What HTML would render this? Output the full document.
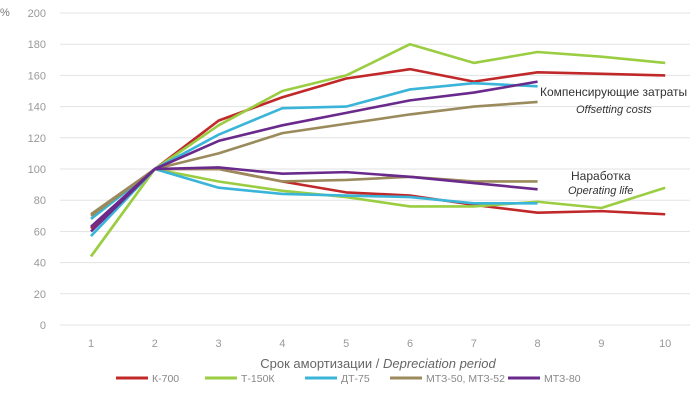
<!DOCTYPE html>
<html><head><meta charset="utf-8"><style>
body{margin:0;background:#fff;font-family:"Liberation Sans","DejaVu Sans",sans-serif;}
svg text{font-family:"Liberation Sans","DejaVu Sans",sans-serif;}
</style></head><body>
<svg id="chart" width="699" height="412" viewBox="0 0 699 412" xmlns="http://www.w3.org/2000/svg"></svg>
<script>
const periods=[1,2,3,4,5,6,7,8,9,10];
const yTicks=[0,20,40,60,80,100,120,140,160,180,200];
const seriesNames=["К-700","Т-150К","ДТ-75","МТЗ-50, МТЗ-52","МТЗ-80"];
const seriesColors=["#c0282a","#9acd42","#3ab4d8","#9b8a5c","#6a2a8c"];
const k700Cost=[62,100,131,146,158,164,156,162,161,160];
const k700Life=[62,100,100,92,85,83,77,72,73,71];
const t150Cost=[44,100,128,150,160,180,168,175,172,168];
const t150Life=[44,100,92,86,82,76,76,79,75,88];
const dt75Cost=[57,100,122,139,140,151,155,153];
const dt75Life=[68,100,88,84,83,82,78,78];
const mtz50Cost=[71,100,110,123,129,135,140,143];
const mtz50Life=[70,100,100,92,93,95,92,92];
const mtz80Cost=[63,100,118,128,136,144,149,156];
const mtz80Life=[60,100,101,97,98,95,91,87];
const seriesData=[[k700Cost,k700Life],[t150Cost,t150Life],[dt75Cost,dt75Life],[mtz50Cost,mtz50Life],[mtz80Cost,mtz80Life]];

const svg=document.getElementById('chart');
const NS="http://www.w3.org/2000/svg";
const x=p=>91+(p-1)*63.8;
const y=v=>325-v*1.56;
function mk(tag,attrs,txt){const e=document.createElementNS(NS,tag);for(const k in attrs)e.setAttribute(k,attrs[k]);if(txt!==undefined)e.textContent=txt;svg.appendChild(e);return e;}

yTicks.forEach(t=>{
  const g=mk('line',{x1:60,x2:690,y1:y(t),y2:y(t),stroke:'#e3e3e3','stroke-width':1});
  
  
  const l=mk('text',{x:46,y:y(t)+4,'text-anchor':'end','font-size':11,fill:'#999'},t);
  
  
});
const pc=mk('text',{x:0,y:16,'font-size':11,fill:'#777'},'%');


periods.forEach(p=>{
  const l=mk('text',{x:x(p),y:347,'text-anchor':'middle','font-size':11,fill:'#999'},p);
  
  
});
const xt=mk('text',{x:378,y:368,'text-anchor':'middle','font-size':13,fill:'#666'});


xt.innerHTML='Срок амортизации / <tspan font-style="italic">Depreciation period</tspan>';

seriesData.forEach((pair,i)=>{
  pair.forEach((vals,j)=>{
    const pts=vals.map((v,k)=>x(periods[k])+','+y(v)).join(' ');
    const pl=mk('polyline',{points:pts,fill:'none',stroke:seriesColors[i],'stroke-width':2.6,'stroke-linejoin':'round'});
    
    
  });
});

const a1=mk('text',{x:540,y:96,'font-size':12,fill:'#333'},'Компенсирующие затраты');


const a2=mk('text',{x:576,y:113,'font-size':11,fill:'#333','font-style':'italic'},'Offsetting costs');


const a3=mk('text',{x:571,y:180,'font-size':12,fill:'#333'},'Наработка');


const a4=mk('text',{x:568,y:194,'font-size':11,fill:'#333','font-style':'italic'},'Operating life');



const legX=[116,205,305,390,508];
seriesNames.forEach((n,i)=>{
  const ln=mk('line',{x1:legX[i],x2:legX[i]+32,y1:378,y2:378,stroke:seriesColors[i],'stroke-width':3});
  
  
  const t=mk('text',{x:legX[i]+36,y:382,'font-size':10.5,fill:'#888'},n);
  
  
});
</script>
</body></html>
